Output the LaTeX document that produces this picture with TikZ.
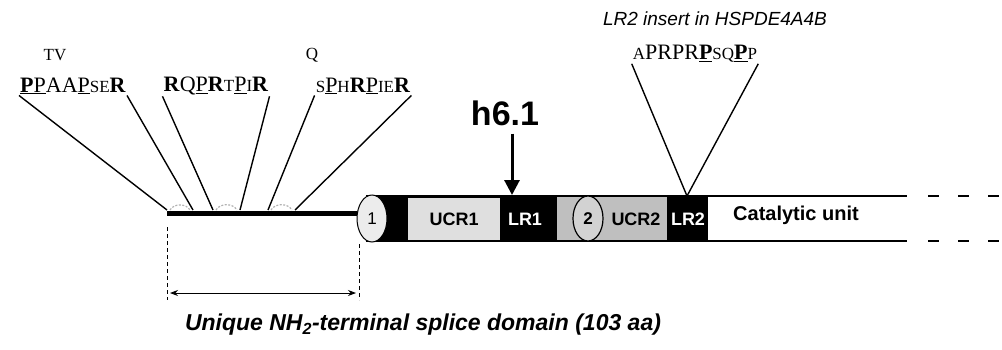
\documentclass[tikz,border=0pt]{standalone}
\usepackage{fontspec}
\setmainfont{Liberation Serif}
\setsansfont{Liberation Sans}
\usetikzlibrary{arrows.meta,positioning,shapes.geometric}
\newcommand{\sm}[1]{{\fontsize{17}{18}\selectfont #1}}
\tikzset{
  seq/.style={font=\rmfamily\fontsize{22}{23}\selectfont,inner sep=1pt},
  tag/.style={font=\rmfamily\fontsize{17}{18}\selectfont,inner sep=0pt},
  pin/.style={line width=1.4pt,black},
  dom/.style={font=\sffamily\bfseries\fontsize{18}{19}\selectfont,inner sep=0pt},
  ucr/.style={dom,anchor=west,minimum height=42pt,inner sep=0pt},
  bump/.style={gray!60,line width=1.2pt,dash pattern=on 2pt off 1.5pt},
  guide/.style={line width=0.9pt,dash pattern=on 4pt off 3pt},
  wing/.style={line width=2pt},
}
\begin{document}
\begin{tikzpicture}[x=1pt,y=-1pt]
\useasboundingbox (0,0) rectangle (1002,349);
% insert sequences
\node[tag] (tv) at (55,55) {TV};
\node[tag] (q) at (312,55) {Q};
\node[seq] (seqA) at (73,86) {\textbf{\underline{P}}\underline{P}AA\underline{P}\sm{SE}\textbf{R}};
\node[seq] (seqB) at (216,86) {\textbf{R}Q\underline{P}\textbf{R}\sm{T}\underline{P}\sm{I}\textbf{R}};
\node[seq] (seqC) at (363,86) {\sm{S}\underline{P}\sm{H}\textbf{R}\underline{P}\sm{IE}\textbf{R}};
\node[font=\sffamily\itshape\fontsize{19}{20}\selectfont,inner sep=0pt] (ins) at (715,19) {LR2 insert in HSPDE4A4B};
\node[seq] (seqE) at (695,54) {\sm{A}PRPR\underline{\textbf{P}}\sm{SQ}\underline{\textbf{P}}\sm{P}};
% upstream conserved regions
\fill (366,195) rectangle (708,242);
\node[ucr,fill=gray!25,minimum width=92pt] (ucr1) at (408,219) {UCR1};
\node[dom,text=white] (lr1) at (525,219) {LR1};
\fill[gray!50] (557,197) rectangle (667,240);
\node[ellipse,draw,line width=1.2pt,fill=gray!35,minimum width=30pt,minimum height=45pt,inner sep=0pt,
      font=\sffamily\bfseries\fontsize{17}{17}\selectfont] (c2) at (588,218.5) {2};
\node[dom] (ucr2) at (636,219) {UCR2};
\node[dom,text=white] (lr2) at (688,219) {LR2};
% N-terminal region
\node[ellipse,draw,line width=1pt,fill=gray!15,minimum width=30pt,minimum height=47pt,inner sep=0pt,
      font=\sffamily\fontsize{17}{17}\selectfont] (c1) at (372,218.5) {1};
\coordinate (nt) at (167,213);
\draw[line width=5pt] (nt) -- (nt -| c1.west);
\coordinate (n1) at (167,210); \coordinate (n2) at (193,210);
\coordinate (n3) at (213,210); \coordinate (n4) at (240,210);
\coordinate (n5) at (268,210); \coordinate (n6) at (295,210);
\foreach \a/\b in {n1/n2,n3/n4,n5/n6}
  \draw[bump] ([xshift=3pt]\a) to[bend left=60] ([xshift=-3pt]\b);
\draw[pin] (seqA.south west) -- (n1);
\draw[pin] (seqA.south east) -- (n2);
\draw[pin] (seqB.south west) -- (n3);
\draw[pin] (seqB.south east) -- (n4);
\draw[pin] (seqC.south west) -- (n5);
\draw[pin] (seqC.south east) -- (n6);
% catalytic unit
\draw[wing] (708,196) -- (907,196) coordinate (ct);
\draw[wing] (708,241) -- (907,241) coordinate (cb);
\draw[wing,dash pattern=on 11pt off 19pt] (928,196) -- (1002,196);
\draw[wing,dash pattern=on 11pt off 19pt] (928,241) -- (1002,241);
\node[dom,font=\sffamily\bfseries\fontsize{20}{21}\selectfont] (cat) at (796,215) {Catalytic unit};
% LR2 insert
\coordinate (lr2top) at (687,196);
\draw[pin] (seqE.south west) -- (lr2top);
\draw[pin] (seqE.south east) -- (lr2top);
% h6.1 epitope
\node[font=\sffamily\bfseries\fontsize{34}{36}\selectfont,inner sep=0pt] (h61) at (505,113) {h6.1};
\coordinate (lr1top) at (512,195);
\draw[line width=3pt,-{Triangle[length=15pt,width=15pt]}] (lr1top |- h61.south) ++(0,8) -- (lr1top);
% splice domain span
\draw[guide] (167,227) -- (167,300);
\draw[guide] (359,244) -- (359,300);
\draw[{Stealth[length=8pt]}-{Stealth[length=8pt]},line width=0.9pt] (170,293) coordinate (sl) -- (356,293) coordinate (sr);
\node[font=\sffamily\bfseries\itshape\fontsize{23}{24}\selectfont,inner sep=0pt] (uniq) at (423,325)
  {Unique NH\textsubscript{2}-terminal splice domain (103 aa)};
\end{tikzpicture}
\end{document}
